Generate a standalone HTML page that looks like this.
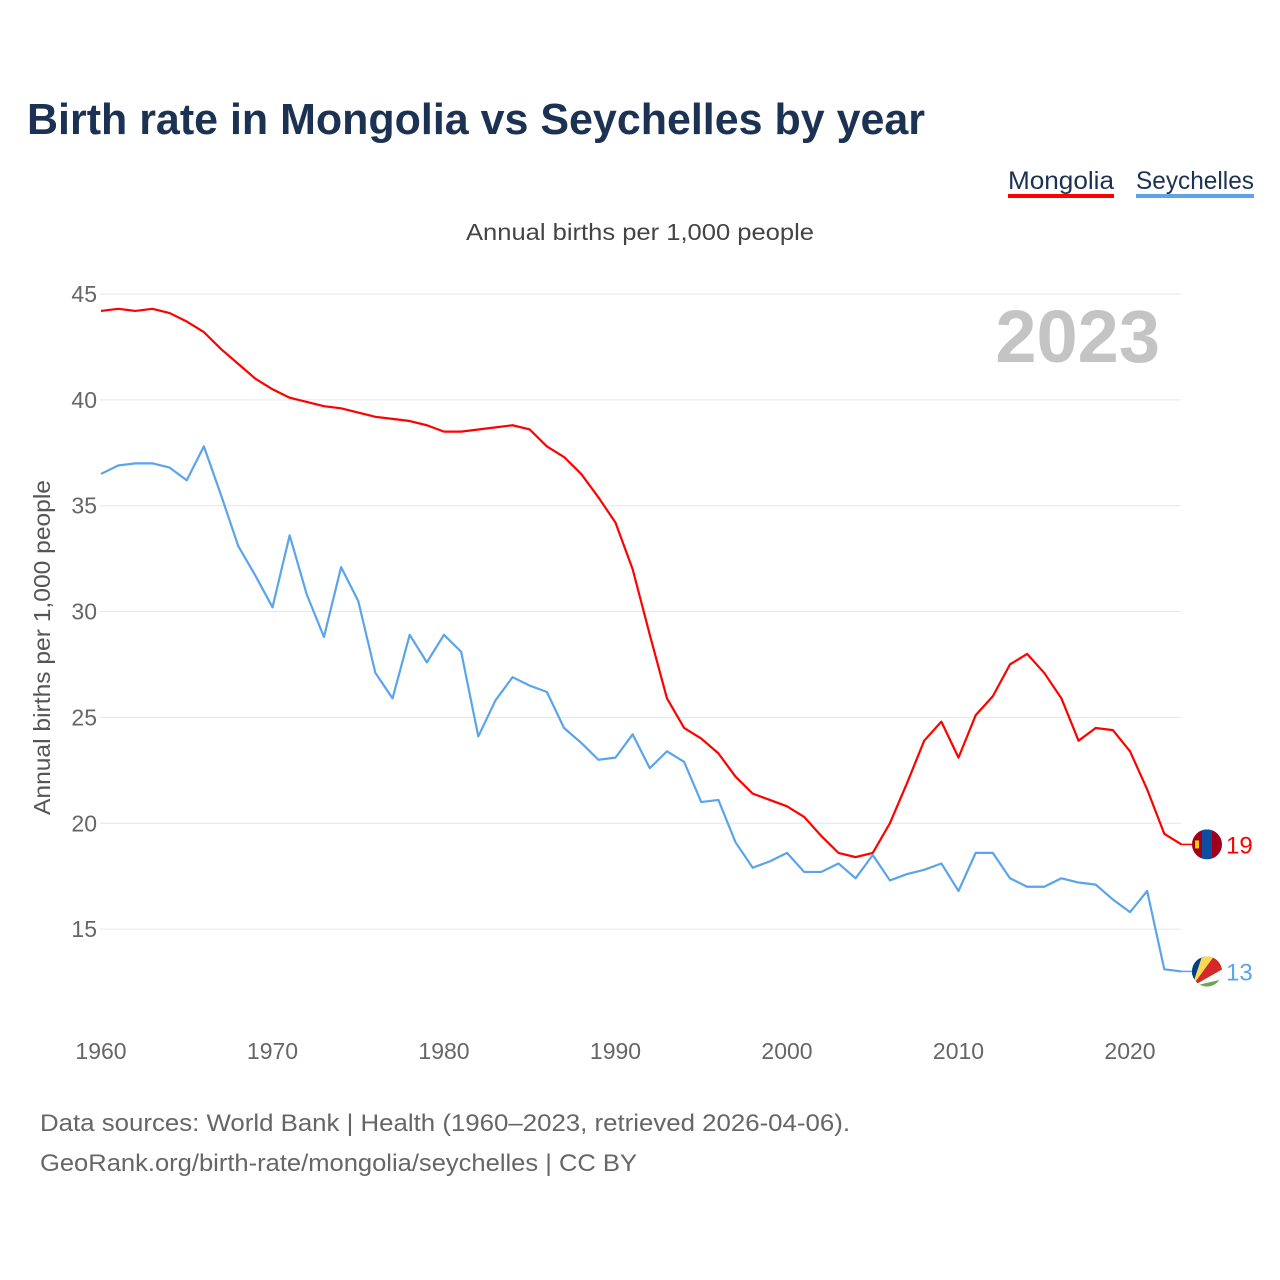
<!DOCTYPE html>
<html><head><meta charset="utf-8">
<style>
body{margin:0;background:#fff;font-family:"Liberation Sans",sans-serif;}
#wrap{position:relative;width:1280px;height:1280px;overflow:hidden;}
</style></head>
<body>
<div id="wrap">
<svg id="chart" width="1280" height="1280">
<text x="27" y="134" font-size="44" font-weight="bold" fill="#1c3253" textLength="898" lengthAdjust="spacingAndGlyphs">Birth rate in Mongolia vs Seychelles by year</text>
<g>
<g>
<text x="1008" y="189" font-size="25" fill="#1c3253" textLength="106" lengthAdjust="spacingAndGlyphs">Mongolia</text>
<rect x="1008" y="194" width="106" height="4" fill="#ff0000"/>
</g>
<g>
<text x="1136" y="189" font-size="25" fill="#1c3253" textLength="118" lengthAdjust="spacingAndGlyphs">Seychelles</text>
<rect x="1136" y="194" width="118" height="4" fill="#5ba4ea"/>
</g>
</g>
<text x="466" y="240" font-size="23" fill="#444" textLength="348" lengthAdjust="spacingAndGlyphs">Annual births per 1,000 people</text>
<text x="1160" y="362" font-size="74" font-weight="bold" fill="#c4c4c4" text-anchor="end">2023</text>
<text transform="translate(50,815) rotate(-90)" font-size="23" fill="#555" textLength="335" lengthAdjust="spacingAndGlyphs">Annual births per 1,000 people</text>
<g id="grid"></g><g id="yticks"></g><g id="xticks"></g><g id="series"></g><g id="ends"></g>
<text x="40" y="1131" font-size="24" fill="#666" textLength="810" lengthAdjust="spacingAndGlyphs">Data sources: World Bank | Health (1960–2023, retrieved 2026-04-06).</text>
<text x="40" y="1171" font-size="24" fill="#666" textLength="597" lengthAdjust="spacingAndGlyphs">GeoRank.org/birth-rate/mongolia/seychelles | CC BY</text>
</svg>
</div>
<script>
const years=[];for(let y=1960;y<=2023;y++)years.push(y);
const mongolia=[44.2,44.3,44.2,44.3,44.1,43.7,43.2,42.4,41.7,41.0,40.5,40.1,39.9,39.7,39.6,39.4,39.2,39.1,39.0,38.8,38.5,38.5,38.6,38.7,38.8,38.6,37.8,37.3,36.5,35.4,34.2,32.0,28.9,25.9,24.5,24.0,23.3,22.2,21.4,21.1,20.8,20.3,19.4,18.6,18.4,18.6,20.0,21.9,23.9,24.8,23.1,25.1,26.0,27.5,28.0,27.1,25.9,23.9,24.5,24.4,23.4,21.6,19.5,19.0];
const seychelles=[36.5,36.9,37.0,37.0,36.8,36.2,37.8,35.5,33.1,31.7,30.2,33.6,30.8,28.8,32.1,30.5,27.1,25.9,28.9,27.6,28.9,28.1,24.1,25.8,26.9,26.5,26.2,24.5,23.8,23.0,23.1,24.2,22.6,23.4,22.9,21.0,21.1,19.1,17.9,18.2,18.6,17.7,17.7,18.1,17.4,18.5,17.3,17.6,17.8,18.1,16.8,18.6,18.6,17.4,17.0,17.0,17.4,17.2,17.1,16.4,15.8,16.8,13.1,13.0];
const yTicks=[15,20,25,30,35,40,45];
const xTicks=[1960,1970,1980,1990,2000,2010,2020];
const endLabels=["19","13"];
const NS="http://www.w3.org/2000/svg";
const X=v=>101+(v-1960)*17.15;
const Y=v=>294+(45-v)*21.17;
function el(t,a,p){const e=document.createElementNS(NS,t);for(const k in a)e.setAttribute(k,a[k]);document.getElementById(p).appendChild(e);return e;}
yTicks.forEach(t=>{
 const l=el('line',{x1:100,x2:1181,y1:Y(t),y2:Y(t),stroke:'#e6e6e6','stroke-width':1},'grid');
 
 
 const tx=el('text',{x:97,y:Y(t)+8,'font-size':23,fill:'#666','text-anchor':'end'},'yticks');
 tx.textContent=t;
 
 
});
xTicks.forEach(t=>{
 const tx=el('text',{x:X(t),y:1059,'font-size':23,fill:'#666','text-anchor':'middle'},'xticks');
 tx.textContent=t;
 
 
});
[[mongolia,'#ff0000','mongolia'],[seychelles,'#5ba4ea','seychelles']].forEach(([d,c,n],i)=>{
 const p=el('polyline',{points:d.map((v,j)=>X(years[j])+','+Y(v)).join(' '),fill:'none',stroke:c,'stroke-width':2.2,'stroke-linejoin':'round'},'series');
 
 
 const last=d[d.length-1],ly=Y(last),lx=X(years[years.length-1]);
 el('line',{x1:lx,x2:1192,y1:ly,y2:ly,stroke:c,'stroke-width':1.5},'ends');
 const g=el('g',{},'ends');
 
 
 const cp='clip'+i;
 const cl=el('clipPath',{id:cp},'ends');el('circle',{cx:1207,cy:ly,r:15},'ends');cl.appendChild(document.getElementById('ends').lastChild);
 if(n==='mongolia'){
  el('rect',{x:1192,y:ly-15,width:10,height:30,fill:'#a0001c','clip-path':'url(#'+cp+')'},'ends');
  el('rect',{x:1202,y:ly-15,width:10,height:30,fill:'#0b4ea2','clip-path':'url(#'+cp+')'},'ends');
  el('rect',{x:1212,y:ly-15,width:10,height:30,fill:'#a0001c','clip-path':'url(#'+cp+')'},'ends');
  el('rect',{x:1195,y:ly-4,width:4,height:8,fill:'#f9cf02'},'ends');
 }else{
  const bx=1192,by=ly+15;
  el('rect',{x:1192,y:ly-15,width:30,height:30,fill:'#007a3d','clip-path':'url(#'+cp+')'},'ends');
  el('polygon',{points:`${bx},${by} ${bx},${ly-15} ${bx+10},${ly-15}`,fill:'#003f87','clip-path':'url(#'+cp+')'},'ends');
  el('polygon',{points:`${bx},${by} ${bx+10},${ly-15} ${bx+22},${ly-15}`,fill:'#fcd856','clip-path':'url(#'+cp+')'},'ends');
  el('polygon',{points:`${bx},${by} ${bx+22},${ly-15} ${bx+30},${ly-15} ${bx+30},${ly-2}`,fill:'#d62828','clip-path':'url(#'+cp+')'},'ends');
  el('polygon',{points:`${bx},${by} ${bx+30},${ly-2} ${bx+30},${ly+8}`,fill:'#fff','clip-path':'url(#'+cp+')'},'ends');
  el('polygon',{points:`${bx},${by} ${bx+30},${ly+8} ${bx+30},${by}`,fill:'#6aa84f','clip-path':'url(#'+cp+')'},'ends');
 }
 const t=el('text',{x:1226,y:ly+9,'font-size':24,fill:c},'ends');
 t.textContent=endLabels[i];
 
 
});
</script>
</body></html>
